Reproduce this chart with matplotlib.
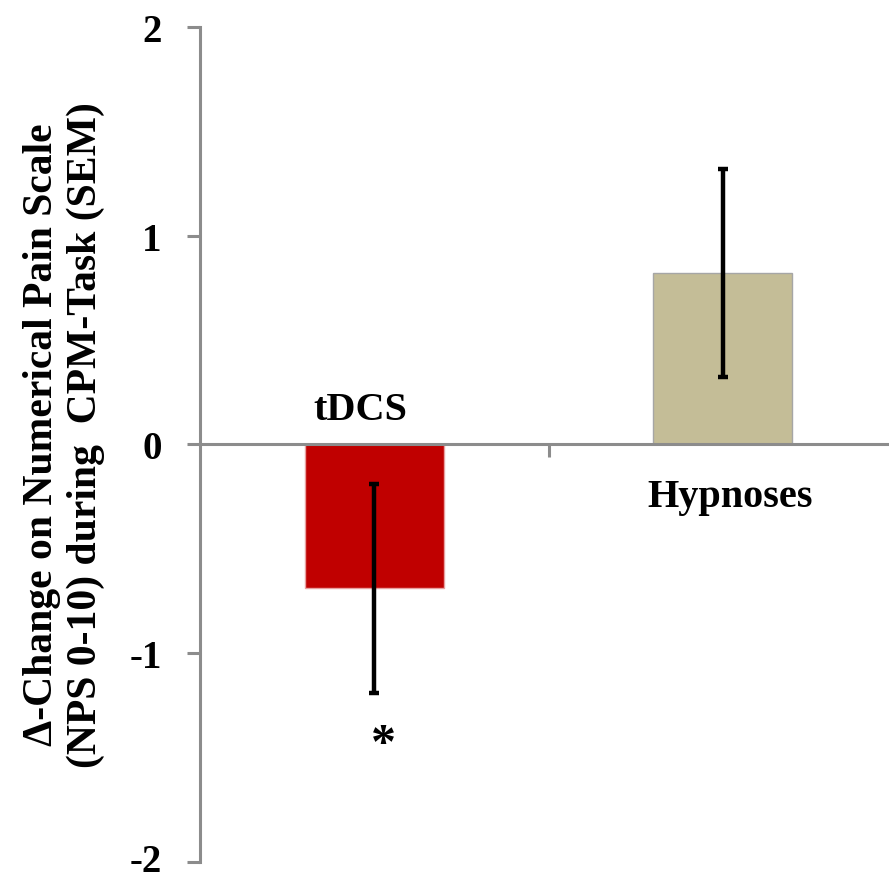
import matplotlib
matplotlib.use("Agg")
import matplotlib.pyplot as plt
import matplotlib.transforms as mtransforms

# Werte
gruppen = ["tDCS", "Hypnoses"]
mittelwerte = [-0.69, 0.82]
sem = [0.50, 0.50]
farben = ["#C00000", "#C4BD97"]
y_ticks = [-2, -1, 0, 1, 2]
y_labels = ["-2", "-1", "0", "1", "2"]

plt.rcParams["font.family"] = ["Liberation Serif", "DejaVu Serif"]
plt.rcParams["font.weight"] = "bold"

fig = plt.figure(figsize=(8.89, 8.79), dpi=100)
ax = fig.add_axes([200 / 889, 16.5 / 879, 697 / 889, 834.5 / 879])

x = list(range(len(gruppen)))
ax.bar(x, mittelwerte, width=0.40, color=farben, edgecolor=["#E8A0A0", "#A6A6A6"],
       linewidth=1.0, zorder=2)
ax.errorbar(x, mittelwerte, yerr=sem, fmt="none", ecolor="black", elinewidth=3.2,
            capsize=3.5, capthick=3.2, zorder=3)

ax.set_xlim(-0.5, 1.5)
ax.set_ylim(-2, 2)

# Achsen im Excel-Stil
grau = "#8C8C8C"
for s in ["top", "right"]:
    ax.spines[s].set_visible(False)
ax.spines["left"].set_color(grau)
ax.spines["left"].set_linewidth(2.2)
ax.spines["bottom"].set_position(("data", 0))
ax.spines["bottom"].set_color(grau)
ax.spines["bottom"].set_linewidth(2.2)

ax.set_yticks(y_ticks)
ax.set_yticklabels(y_labels, fontsize=28, fontweight="bold")
ax.tick_params(axis="y", direction="out", length=9.5, width=2.2, color=grau, pad=18)
# unterstes Label etwas anheben, damit es nicht abgeschnitten wird
lbl = ax.get_yticklabels()[0]
lbl.set_transform(lbl.get_transform() + mtransforms.ScaledTranslation(0, 3 / 72, fig.dpi_scale_trans))
ax.set_xticks([0.5])
ax.set_xticklabels([""])
ax.tick_params(axis="x", direction="out", length=9, width=2.2, color=grau)

# Kategorienamen neben der Nulllinie
ax.text(x[0] - 0.04, 0.08, gruppen[0], ha="center", va="bottom", fontsize=29, fontweight="bold")
ax.text(x[1] + 0.02, -0.16, gruppen[1], ha="center", va="top", fontsize=29, fontweight="bold")

# Signifikanz
ax.text(x[0] + 0.025, mittelwerte[0] - sem[0] - 0.14, "*", ha="center", va="top",
        fontsize=36, fontweight="bold")

fig.text(64 / 889, 0.505, "Δ-Change on Numerical Pain Scale\n(NPS 0-10) during  CPM-Task (SEM)",
         rotation=90, ha="center", va="center", fontsize=30, fontweight="bold",
         linespacing=1.2)

fig.savefig("out.png", dpi=100)
